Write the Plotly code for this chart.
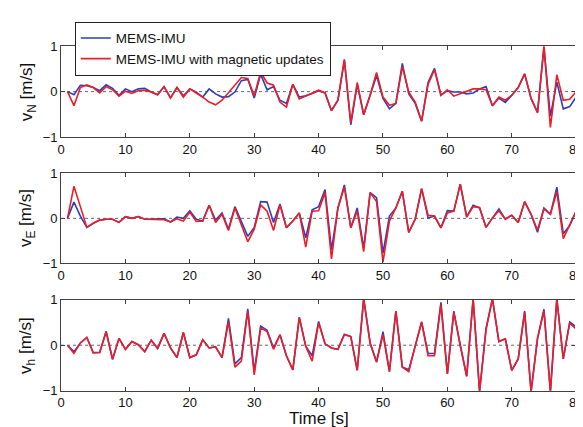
import plotly.graph_objects as go

time_s = list(range(1, 81))

vn_imu = [0, -0.07, 0.14, 0.13, 0.09, 0.02, 0.15, 0.07, -0.08, 0.06,
          0, 0.06, 0.07, -0.01, -0.07, 0.11, -0.14, 0.09, -0.09, 0.06,
          -0.01, -0.12, 0.06, -0.05, -0.12, -0.11, -0.01, 0.24, 0.27, -0.14,
          0.38, 0.04, 0.11, -0.19, -0.26, 0.16, -0.12, -0.09, -0.04, 0.02,
          -0.03, -0.42, -0.19, 0.69, -0.73, 0.16, -0.51, -0.08, 0.35, -0.15,
          -0.38, -0.26, 0.62, -0.05, -0.26, -0.65, 0.2, 0.51, -0.08, 0.02,
          -0.01, -0.01, -0.05, -0.03, 0.06, 0.11, -0.31, -0.14, -0.24, -0.08,
          0.09, 0.39, -0.15, -0.45, 0.95, -0.54, 0.21, -0.38, -0.33, -0.12]
vn_mag = [0, -0.31, 0.09, 0.15, 0.09, -0.03, 0.11, 0.04, -0.1, 0.01,
          -0.04, 0.02, 0.03, -0.01, -0.07, 0.11, -0.14, 0.09, -0.12, 0.06,
          -0.03, -0.12, -0.23, -0.29, -0.19, -0.03, 0.13, 0.31, 0.29, -0.09,
          0.43, 0.19, 0.14, -0.23, -0.34, 0.16, -0.16, -0.1, -0.04, 0.03,
          -0.03, -0.42, -0.19, 0.71, -0.68, 0.2, -0.51, -0.08, 0.42, -0.12,
          -0.3, -0.26, 0.55, -0.01, -0.23, -0.65, 0.16, 0.48, -0.08, 0.04,
          -0.1, -0.05, 0.01, 0.06, 0.06, 0.04, -0.31, -0.12, -0.19, -0.08,
          0.09, 0.39, -0.15, -0.47, 1.02, -0.79, 0.37, -0.19, -0.17, 0]

ve_imu = [0, 0.36, 0.05, -0.2, -0.11, -0.04, -0.02, -0.02, -0.09, 0.04,
          0, 0.04, -0.02, -0.02, -0.02, -0.01, -0.08, 0.03, 0, 0.17,
          -0.02, -0.06, 0.29, -0.04, 0.12, -0.24, 0.26, -0.06, -0.4, -0.2,
          0.37, 0.36, -0.09, 0.32, -0.21, -0.06, 0.12, -0.43, 0.19, 0.26,
          0.64, -0.7, 0.23, 0.74, -0.21, 0.23, -0.66, 0.57, 0.46, -0.77,
          0.05, 0.23, 0.6, -0.31, -0.02, 0.66, 0.01, 0.05, -0.21, 0.17,
          0.16, 0.76, 0.03, 0.29, 0.23, -0.2, 0.01, 0.21, -0.02, 0.07,
          -0.09, 0.37, 0.09, -0.31, 0.23, 0.09, 0.69, -0.34, -0.16, 0.16]
ve_mag = [0, 0.71, 0.26, -0.2, -0.11, -0.04, -0.02, -0.02, -0.09, 0.04,
          0, 0.04, -0.02, -0.02, -0.02, -0.03, -0.08, -0.01, -0.06, 0.14,
          -0.07, -0.06, 0.29, -0.09, 0.09, -0.27, 0.23, -0.13, -0.52, -0.24,
          0.3, 0.16, -0.27, 0.3, -0.21, -0.06, 0.12, -0.64, 0.16, 0.17,
          0.57, -0.9, 0.23, 0.69, -0.21, 0.16, -0.74, 0.57, 0.37, -0.97,
          -0.06, 0.23, 0.6, -0.31, -0.02, 0.66, 0.07, 0.05, -0.21, 0.12,
          0.16, 0.76, 0.03, 0.26, 0.24, -0.2, 0.01, 0.17, -0.02, 0.07,
          -0.09, 0.37, 0.09, -0.26, 0.21, 0.09, 0.59, -0.45, -0.16, 0.16]

vh_imu = [0, -0.14, 0.05, 0.17, -0.16, -0.16, 0.3, -0.31, 0.15, -0.09,
          0.08, 0.01, -0.14, 0.11, -0.07, 0.26, -0.06, -0.27, 0.28, -0.27,
          -0.21, 0.12, -0.06, -0.03, -0.27, 0.59, -0.41, -0.27, 0.8, -0.58,
          0.42, 0.33, -0.06, 0.23, -0.23, -0.54, 0.61, -0.02, -0.23, 0.52,
          0.03, -0.06, -0.09, 0.24, 0.19, -0.55, 1.02, 0.05, -0.37, 0.3,
          -0.58, 0.75, -0.48, -0.54, -0.02, 0.51, -0.18, -0.18, 0.94, -0.63,
          0.75, -0.02, -0.68, 1.02, -1.02, 0.37, 1.02, 0.08, 0.14, -0.55,
          -0.3, 0.75, -1.02, 0.15, 0.79, -1.02, 1.02, -0.3, 0.51, 0.4]
vh_mag = [0, -0.18, 0.05, 0.17, -0.17, -0.16, 0.3, -0.31, 0.15, -0.09,
          0.08, 0.01, -0.14, 0.11, -0.07, 0.26, -0.06, -0.27, 0.28, -0.27,
          -0.21, 0.12, -0.06, -0.04, -0.27, 0.51, -0.48, -0.35, 0.75, -0.65,
          0.38, 0.3, -0.09, 0.23, -0.23, -0.54, 0.61, -0.02, -0.35, 0.49,
          0.03, -0.06, -0.09, 0.23, 0.19, -0.55, 1.02, 0.05, -0.37, 0.23,
          -0.58, 0.75, -0.48, -0.58, -0.02, 0.51, -0.23, -0.23, 0.89, -0.63,
          0.72, -0.02, -0.68, 1.02, -1.02, 0.33, 1.02, 0.08, 0.14, -0.55,
          -0.3, 0.72, -1.02, 0.15, 0.75, -1.02, 1.02, -0.3, 0.49, 0.35]

x_ticks = [0, 10, 20, 30, 40, 50, 60, 70, 80]
y_ticks = [-1, 0, 1]
y_titles = ["v<sub>N</sub> [m/s]", "v<sub>E</sub> [m/s]", "v<sub>h</sub> [m/s]"]
x_title = "Time [s]"
series_names = ["MEMS-IMU", "MEMS-IMU with magnetic updates"]

BLUE = "#2b3fbf"
RED = "#ee1c25"
FONT = "Liberation Sans, Arial, sans-serif"

W, H = 583, 427
x_dom = [50 / W, 575 / W]
y_doms = [[1 - 126.5 / H, 1 - 32.3 / H], [1 - 257.5 / H, 1 - 164 / H], [1 - 389.5 / H, 1 - 295 / H]]

panels = [(vn_imu, vn_mag), (ve_imu, ve_mag), (vh_imu, vh_mag)]

fig = go.Figure()
for i, (a, b) in enumerate(panels):
    sfx = "" if i == 0 else str(i + 1)
    fig.add_trace(go.Scatter(x=time_s, y=a, mode="lines", name=series_names[0],
                             line=dict(color=BLUE, width=1.6), showlegend=(i == 0),
                             xaxis="x" + sfx, yaxis="y" + sfx))
    fig.add_trace(go.Scatter(x=time_s, y=b, mode="lines", name=series_names[1],
                             line=dict(color=RED, width=1.6), showlegend=(i == 0),
                             xaxis="x" + sfx, yaxis="y" + sfx))
    axis_common = dict(showline=True, linecolor="#404040", linewidth=1, mirror="ticks",
                       ticks="inside", ticklen=4, tickcolor="#404040", showgrid=False,
                       zeroline=False, ticklabeloverflow="allow",
                       tickfont=dict(family=FONT, size=13, color="#111111"))
    fig.layout["xaxis" + sfx] = go.layout.XAxis(
        domain=x_dom, range=[0, 80], tickvals=x_ticks, anchor="y" + sfx, **axis_common)
    fig.layout["yaxis" + sfx] = go.layout.YAxis(
        domain=y_doms[i], range=[-1, 1], tickvals=y_ticks, anchor="x" + sfx, **axis_common)
    fig.add_shape(type="line", xref="x" + sfx + " domain" if sfx else "x domain",
                  yref="y" + sfx, x0=0, x1=1, y0=0, y1=0,
                  line=dict(color="#666666", width=1, dash="dot"), layer="below")
    fig.add_annotation(text=y_titles[i], xref="paper", yref="paper",
                       x=16 / W, y=sum(y_doms[i]) / 2, xanchor="center", yanchor="middle",
                       textangle=-90, showarrow=False,
                       font=dict(family=FONT, size=17, color="#111111"))

fig.add_annotation(text=x_title, xref="paper", yref="paper",
                   x=(x_dom[0] + x_dom[1]) / 2, y=1 - 418 / H, xanchor="center", yanchor="middle",
                   showarrow=False, font=dict(family=FONT, size=17, color="#111111"))

fig.update_layout(
    width=W, height=H,
    margin=dict(l=0, r=0, t=0, b=0),
    paper_bgcolor="white", plot_bgcolor="white",
    font=dict(family=FONT, color="#111111"),
    legend=dict(x=64 / W, y=1 - 7 / H, xanchor="left", yanchor="top",
                bgcolor="white", bordercolor="#222222", borderwidth=1,
                font=dict(family=FONT, size=13.5), tracegroupgap=0,
                itemwidth=30),
)

fig.write_html("out.html")
